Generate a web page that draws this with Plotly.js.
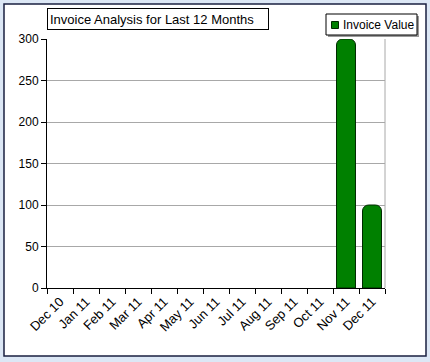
<!DOCTYPE html>
<html>
<head>
<meta charset="utf-8">
<script src="https://cdn.plot.ly/plotly-3.0.1.min.js"></script>
<style>
html,body{margin:0;padding:0;background:#dce7f5;}
#chart{width:430px;height:362px;}
</style>
</head>
<body>
<div id="chart"></div>
<script>
var months = ["Dec 10","Jan 11","Feb 11","Mar 11","Apr 11","May 11","Jun 11","Jul 11","Aug 11","Sep 11","Oct 11","Nov 11","Dec 11"];
var invoiceValues = [0,0,0,0,0,0,0,0,0,0,0,300,100];
var seriesName = "Invoice Value";
var chartTitle = "Invoice Analysis for Last 12 Months";

var L = 47, R = 385, T = 39, B = 288, W = 430, H = 362;
var pw = R - L, ph = B - T;
function px(x){ return (x - L) / pw; }
function py(y){ return (B - y) / ph; }

var fontFam = "Liberation Sans, Arial, sans-serif";
var barColor = "#008000";

var trace = {
  type: "bar",
  x: months,
  y: invoiceValues,
  name: seriesName,
  marker: {
    color: barColor,
    line: {color: "#002a00", width: invoiceValues.map(function(v){ return v > 0 ? 1 : 0; })}
  },
  showlegend: false
};

var layout = {
  width: W, height: H,
  margin: {l: L, r: W - R, t: T, b: H - B, pad: 0},
  paper_bgcolor: "#dce7f5",
  plot_bgcolor: "#ffffff",
  bargap: 0.27,
  barcornerradius: 6,
  font: {family: fontFam, size: 12, color: "#000"},
  xaxis: {
    type: "category",
    tickson: "boundaries",
    ticks: "outside", ticklen: 5, tickcolor: "#000", tickwidth: 1,
    tickangle: -45,
    tickfont: {family: fontFam, size: 13, color: "#000"},
    showline: true, linecolor: "#000", linewidth: 1,
    showgrid: false, zeroline: false,
    fixedrange: true
  },
  yaxis: {
    range: [0, 300], dtick: 50,
    ticks: "outside", ticklen: 5, tickcolor: "#000", tickwidth: 1,
    tickfont: {family: fontFam, size: 12, color: "#000"},
    showline: true, linecolor: "#000", linewidth: 1,
    showgrid: true, gridcolor: "#a8a8a8", gridwidth: 1,
    zeroline: false,
    fixedrange: true
  },
  showlegend: false,
  shapes: [
    {type: "rect", xref: "paper", yref: "paper", layer: "below",
     x0: px(4), x1: px(426), y0: py(356), y1: py(4),
     fillcolor: "#ffffff", line: {color: "#1a2040", width: 1.5}},
    {type: "line", xref: "paper", yref: "paper", layer: "below",
     x0: 1, x1: 1, y0: 0, y1: 1, line: {color: "#a8a8a8", width: 1}},
    {type: "rect", xref: "paper", yref: "paper", layer: "above",
     x0: px(328), x1: px(419), y0: py(37), y1: py(16),
     fillcolor: "#9a9a9a", line: {width: 0}},
    {type: "rect", xref: "paper", yref: "paper", layer: "above",
     x0: px(326), x1: px(417), y0: py(35), y1: py(14),
     fillcolor: "#ffffff", line: {color: "#000", width: 1}},
    {type: "rect", xref: "paper", yref: "paper", layer: "above",
     x0: px(331.5), x1: px(338.5), y0: py(28.5), y1: py(21.5),
     fillcolor: barColor, line: {color: "#002a00", width: 1}}
  ],
  annotations: [
    {xref: "paper", yref: "paper", x: px(47), y: py(8), xanchor: "left", yanchor: "top",
     text: chartTitle, showarrow: false, align: "left", width: 216, height: 16,
     font: {family: fontFam, size: 13, color: "#000"},
     bgcolor: "#ffffff", bordercolor: "#000", borderwidth: 1, borderpad: 2},
    {xref: "paper", yref: "paper", x: px(341), y: py(25), xanchor: "left", yanchor: "middle",
     text: seriesName, showarrow: false,
     font: {family: fontFam, size: 12, color: "#000"}}
  ]
};

Plotly.newPlot("chart", [trace], layout, {displayModeBar: false, staticPlot: true});
</script>
</body>
</html>
